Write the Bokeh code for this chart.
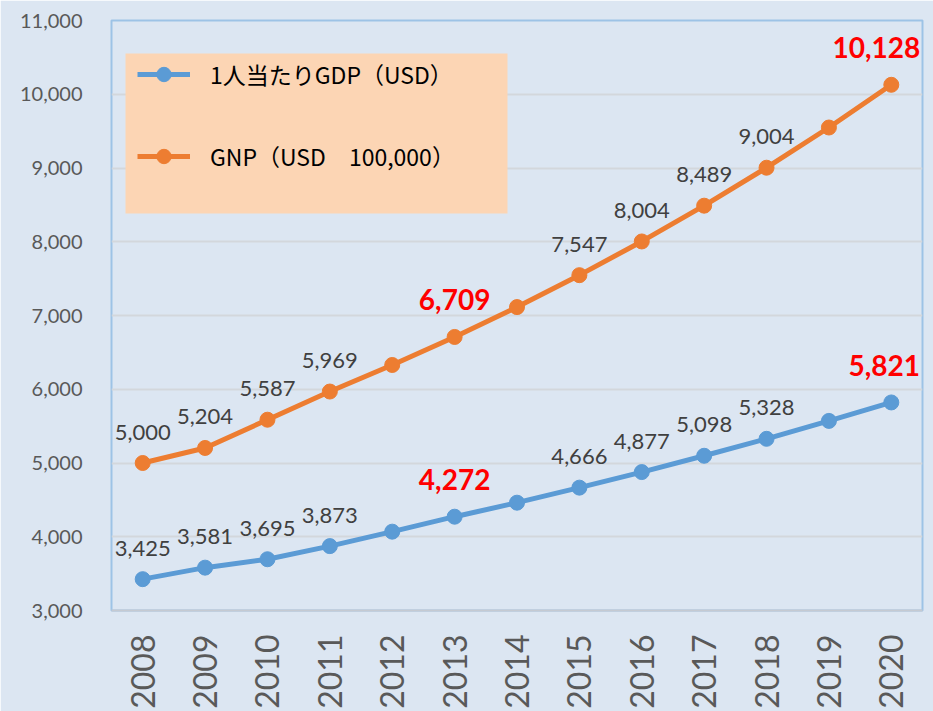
import numpy as np
from bokeh.plotting import figure
from bokeh.models import (ColumnDataSource, Range1d, FactorRange, FixedTicker,
                          NumeralTickFormatter, Legend, LegendItem, BoxAnnotation)
from bokeh.core.properties import value
from bokeh.embed import file_html
from bokeh.resources import INLINE

# ---- data ----
years = ["2008", "2009", "2010", "2011", "2012", "2013", "2014",
         "2015", "2016", "2017", "2018", "2019", "2020"]
gdp_per_capita = [3425, 3581, 3695, 3873, 4069, 4272, 4462,
                  4666, 4877, 5098, 5328, 5571, 5821]
gnp = [5000, 5204, 5587, 5969, 6329, 6709, 7114,
       7547, 8004, 8489, 9004, 9549, 10128]
labeled_years = ["2008", "2009", "2010", "2011", "2013", "2015",
                 "2016", "2017", "2018", "2020"]
highlight_years = ["2013", "2020"]
y_ticks = [3000, 4000, 5000, 6000, 7000, 8000, 9000, 10000, 11000]
series_names = ["1人当たりGDP（USD）", "GNP（USD　100,000）"]

# ---- styles ----
BG = "#dce6f2"
BLUE = "#5b9bd5"
ORANGE = "#ed7d31"
NUM_FONT = "Lato"
JP_FONT = "Noto Sans CJK JP"
W, H = 933, 711

p = figure(x_range=FactorRange(*years), y_range=Range1d(y_ticks[0], y_ticks[-1]),
           width=W, height=H, output_backend="svg", toolbar_location=None,
           min_border_left=111, min_border_right=11, min_border_top=20,
           min_border_bottom=100,
           background_fill_color=BG, border_fill_color=BG,
           outline_line_color="#9dc3e6", outline_line_width=2)

p.xgrid.grid_line_color = None
p.ygrid.grid_line_color = "#d3d7dc"
p.ygrid.grid_line_width = 2

p.yaxis.ticker = FixedTicker(ticks=y_ticks)
p.yaxis.formatter = NumeralTickFormatter(format="0,0")
p.yaxis.axis_line_color = None
p.yaxis.major_tick_line_color = None
p.yaxis.minor_tick_line_color = None
p.yaxis.major_tick_out = 0
p.yaxis.major_tick_in = 0
p.yaxis.major_label_standoff = 29
p.yaxis.major_label_text_font = NUM_FONT
p.yaxis.major_label_text_font_size = "20px"
p.yaxis.major_label_text_color = "#595959"

p.xaxis.axis_line_color = "#c5cad2"
p.xaxis.axis_line_width = 2
p.xaxis.major_tick_line_color = None
p.xaxis.minor_tick_line_color = None
p.xaxis.major_tick_out = 0
p.xaxis.major_tick_in = 0
p.xaxis.major_label_standoff = 24
p.xaxis.major_label_orientation = np.pi / 2
p.xaxis.major_label_text_font = NUM_FONT
p.xaxis.major_label_text_font_size = "32px"
p.xaxis.major_label_text_color = "#595959"

# legend background box (canvas px)
p.add_layout(BoxAnnotation(left=125, right=507, top=53, bottom=213,
                           left_units="canvas", right_units="canvas",
                           top_units="canvas", bottom_units="canvas",
                           fill_color="#fcd5b4", fill_alpha=1, line_color=None,
                           level="underlay"))
# outer chart border lines
for lx in (0, 927):
    p.add_layout(BoxAnnotation(left=lx, right=lx + 2, top=0, bottom=H,
                               left_units="canvas", right_units="canvas",
                               top_units="canvas", bottom_units="canvas",
                               fill_color="#8db4e2", fill_alpha=1, line_color=None))

items = []
for name, vals, col in [(series_names[0], gdp_per_capita, BLUE),
                        (series_names[1], gnp, ORANGE)]:
    src = ColumnDataSource(dict(x=years, y=vals))
    ln = p.line("x", "y", source=src, line_color=col, line_width=5)
    sc = p.scatter("x", "y", source=src, size=15, fill_color=col, line_color=col)
    items.append(LegendItem(label=name, renderers=[ln, sc]))

    # data labels
    nx, ny, nt = [], [], []
    hx, hy, ht, hdx = [], [], [], []
    for i, (yr, v) in enumerate(zip(years, vals)):
        if yr not in labeled_years:
            continue
        txt = f"{v:,}"
        if yr in highlight_years:
            hx.append(yr); hy.append(v); ht.append(txt)
            hdx.append(0 if i < len(years) - 1 else (-15 if v > 8000 else -7))
        else:
            nx.append(yr); ny.append(v); nt.append(txt)
    p.text(x="x", y="y", text="t", source=ColumnDataSource(dict(x=nx, y=ny, t=nt)),
           text_align="center", text_baseline="middle", y_offset=-31,
           text_font=value(NUM_FONT), text_font_size="22px", text_color="#404040")
    p.text(x="x", y="y", text="t", x_offset="dx",
           source=ColumnDataSource(dict(x=hx, y=hy, t=ht, dx=hdx)),
           text_align="center", text_baseline="middle", y_offset=-37,
           text_font=value(NUM_FONT), text_font_size="28px", text_font_style="bold",
           text_color="#ff0000")

legend = Legend(items=items, location=(26, 436), orientation="vertical",
                background_fill_alpha=0, border_line_color=None,
                padding=2, margin=0, spacing=46,
                glyph_width=53, glyph_height=36, label_height=36,
                label_standoff=20,
                label_text_font=JP_FONT, label_text_font_size="23px",
                label_text_color="#000000")
p.add_layout(legend)

open("out.html", "w").write(file_html(p, INLINE))
